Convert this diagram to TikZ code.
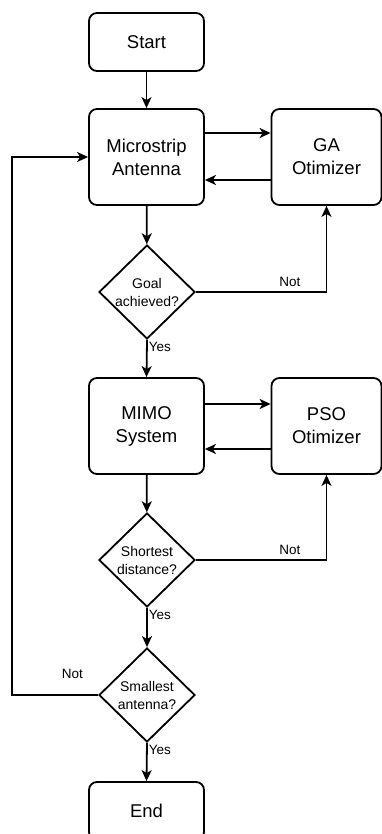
\documentclass[tikz,border=0pt]{standalone}
\usepackage{fontspec}
\setmainfont{Liberation Sans}
\usetikzlibrary{shapes.geometric,arrows.meta}

\tikzset{
  box/.style={draw,line width=1.8pt,rounded corners=8pt,align=center,inner sep=0pt,font=\fontsize{18.5}{23}\selectfont},
  decision/.style={draw,line width=1.8pt,diamond,aspect=1,align=center,inner sep=0pt,minimum width=96pt,minimum height=94pt,font=\fontsize{14}{18}\selectfont},
  lbl/.style={font=\fontsize{13.5}{16}\selectfont,inner sep=1pt},
  flow/.style={line width=1.8pt,-{Stealth[length=11pt,width=10pt,inset=3pt]}}
}

\begin{document}
\begin{tikzpicture}[x=1pt,y=1pt,yscale=-1]
\useasboundingbox (0,0) rectangle (382,834);

%Shape: Rounded boxes
\node[box,minimum width=115pt,minimum height=58pt] (start) at (146.5,42) {Start};
\node[box,minimum width=115pt,minimum height=96pt] (antenna) at (146.5,157) {Microstrip\\Antenna};
\node[box,minimum width=110pt,minimum height=96pt] (ga) at (326.5,157) {GA\\Otimizer};
\node[box,minimum width=115pt,minimum height=96pt] (mimo) at (146.5,426) {MIMO\\System};
\node[box,minimum width=110pt,minimum height=96pt] (pso) at (326.5,426) {PSO\\Otimizer};
\node[box,minimum width=115pt,minimum height=58pt] (end) at (146.5,811) {End};

%Shape: Diamonds
\node[decision] (goal) at (147,292) {Goal\\achieved?};
\node[decision] (dist) at (147,560) {Shortest\\distance?};
\node[decision] (small) at (147,695) {Smallest\\antenna?};

\coordinate (loop) at (12,0);

%Straight Lines
\draw[flow] (start) -- (antenna);
\draw[flow] ([yshift=-24pt]antenna.east) -- ([yshift=-24pt]ga.west);
\draw[flow] ([yshift=23pt]ga.west) -- ([yshift=23pt]antenna.east);
\draw[flow] (antenna) -- (goal);
\draw[flow] (goal.east) -| node[lbl,pos=0.36,anchor=south,inner sep=4pt] {Not} (ga.south);
\draw[flow] (goal.south) -- node[lbl,pos=0,anchor=north west] {Yes} (mimo.north);

\draw[flow] ([yshift=-22pt]mimo.east) -- ([yshift=-22pt]pso.west);
\draw[flow] ([yshift=23pt]pso.west) -- ([yshift=23pt]mimo.east);
\draw[flow] (mimo) -- (dist);
\draw[flow] (dist.east) -| node[lbl,pos=0.36,anchor=south,inner sep=4pt] {Not} (pso.south);
\draw[flow] (dist.south) -- node[lbl,pos=0,anchor=north west] {Yes} (small.north);

\draw[flow] (small.west) -- node[lbl,pos=0.3,anchor=south,yshift=14pt] {Not} (small.west -| loop) |- (antenna.west);
\draw[flow] (small.south) -- node[lbl,pos=0,anchor=north west] {Yes} (end.north);

\end{tikzpicture}
\end{document}
